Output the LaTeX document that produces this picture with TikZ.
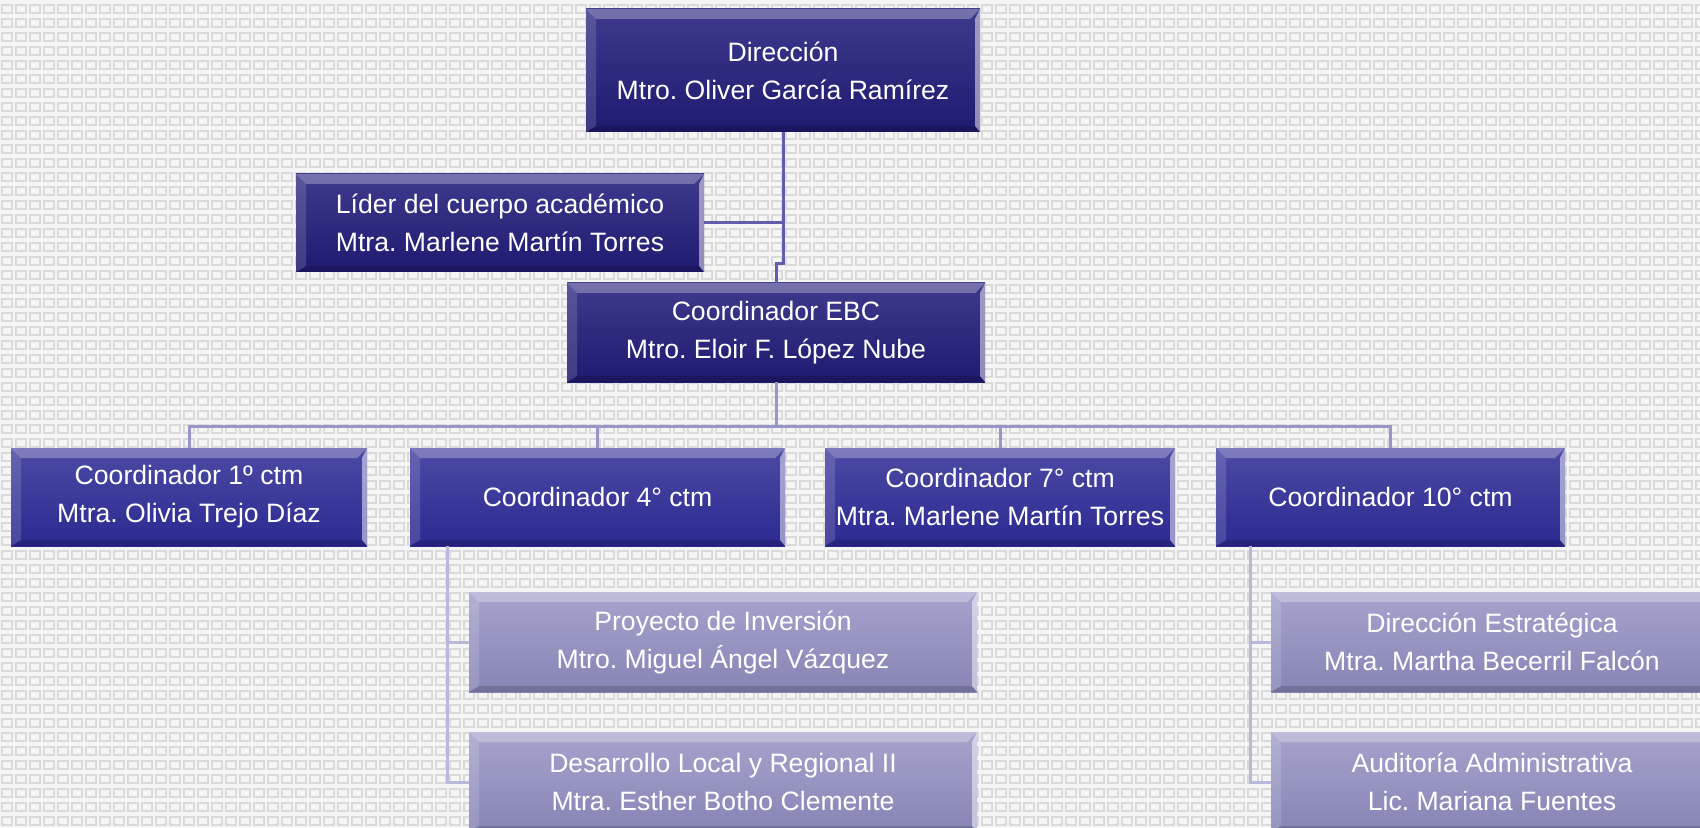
\documentclass[tikz,border=0pt]{standalone}
\usepackage{fontspec}
\setmainfont{Liberation Sans}
\usetikzlibrary{patterns}
\frenchspacing

\definecolor{fondo}{RGB}{245,245,245}
\definecolor{cuadro}{RGB}{218,218,218}
\definecolor{navytop}{RGB}{62,58,140}
\definecolor{navybot}{RGB}{30,26,112}
\definecolor{azultop}{RGB}{76,74,164}
\definecolor{azulbot}{RGB}{44,41,145}
\definecolor{lilatop}{RGB}{166,164,205}
\definecolor{lilabot}{RGB}{134,132,180}
\definecolor{lineatop}{RGB}{96,94,168}
\definecolor{lineamid}{RGB}{152,150,200}
\definecolor{lineasub}{RGB}{184,184,218}

\pgfdeclarepatternformonly{tiles}{\pgfpoint{-0.5pt}{-0.5pt}}{\pgfpoint{7.5pt}{7.5pt}}{\pgfpoint{7pt}{7pt}}{%
  \pgfsetlinewidth{0.6pt}%
  \pgfpathrectangle{\pgfpoint{1pt}{1.5pt}}{\pgfpoint{5pt}{4pt}}%
  \pgfusepath{stroke}}

\begin{document}
\begin{tikzpicture}[x=0.5pt,y=-0.5pt,
  bevel/.style={path picture={
    \fill[white,opacity=.28] (path picture bounding box.north west) -- (path picture bounding box.north east)
      -- ([shift={(-5pt,-5pt)}]path picture bounding box.north east) -- ([shift={(5pt,-5pt)}]path picture bounding box.north west) -- cycle;
    \fill[white,opacity=.14] (path picture bounding box.north west) -- ([shift={(5pt,-5pt)}]path picture bounding box.north west)
      -- ([shift={(5pt,3pt)}]path picture bounding box.south west) -- (path picture bounding box.south west) -- cycle;
    \fill[white,opacity=.5] (path picture bounding box.north east) -- ([shift={(-2.5pt,-5pt)}]path picture bounding box.north east)
      -- ([shift={(-2.5pt,3pt)}]path picture bounding box.south east) -- (path picture bounding box.south east) -- cycle;
    \fill[black,opacity=.15] (path picture bounding box.south west) -- ([shift={(5pt,3pt)}]path picture bounding box.south west)
      -- ([shift={(-2.5pt,3pt)}]path picture bounding box.south east) -- (path picture bounding box.south east) -- cycle;
  }},
  box/.style={inner sep=0pt,text=white,align=center,font=\fontsize{13.3}{19}\selectfont,bevel},
  jefe/.style={box,top color=navytop,bottom color=navybot},
  coord/.style={box,top color=azultop,bottom color=azulbot,minimum height=49pt},
  materia/.style={box,top color=lilatop,bottom color=lilabot,minimum height=50pt},
  link/.style={draw=lineatop,line width=1.5pt},
  bus/.style={draw=lineamid,line width=1.5pt},
  sub/.style={draw=lineasub,line width=1.5pt}]
\useasboundingbox (0,0) rectangle (1700,828);
\clip (0,0) rectangle (1700,828);
\fill[fondo] (0,0) rectangle (1700,828);
\fill[pattern=tiles,pattern color=cuadro] (0,0) rectangle (1700,828);

\node[jefe,minimum width=197pt,minimum height=61.5pt] (dir) at (783,70.5) {Dirección\\Mtro. Oliver García Ramírez};
\node[jefe,minimum width=204pt,minimum height=49pt] (lider) at (500,223) {Líder del cuerpo académico\\Mtra. Marlene Martín Torres};
\node[jefe,minimum width=209pt,minimum height=49.5pt] (ebc) at (776,332.5) {Coordinador EBC\\Mtro. Eloir F. López Nube};

\node[coord,minimum width=178pt] (c1) at (189,497) {Coordinador 1º ctm\\Mtra. Olivia Trejo Díaz};
\node[coord,minimum width=187.5pt] (c2) at (597.5,497) {Coordinador 4° ctm};
\node[coord,minimum width=175pt] (c3) at (1000,497) {Coordinador 7° ctm\\Mtra. Marlene Martín Torres};
\node[coord,minimum width=174.5pt] (c4) at (1390.5,497) {Coordinador 10° ctm};

\node[materia,minimum width=254pt] (p1) at (723,642) {Proyecto de Inversión\\Mtro. Miguel Ángel Vázquez};
\node[materia,minimum width=254pt] (p2) at (723,782) {Desarrollo Local y Regional II\\Mtra. Esther Botho Clemente};
\node[materia,minimum width=221pt] (d1) at (1492,642) {Dirección Estratégica\\Mtra. Martha Becerril Falcón};
\node[materia,minimum width=221pt] (d2) at (1492,782) {Auditoría Administrativa\\Lic. Mariana Fuentes};

\draw[link] (dir.south) -- ++(0,131) -| (ebc.north);
\draw[link] (lider.east) -- (lider.east -| dir.south);
\draw[bus] (ebc.south) -- ++(0,44) coordinate (b);
\draw[bus] (b) -| (c1.north);
\draw[bus] (b) -| (c2.north);
\draw[bus] (b) -| (c3.north);
\draw[bus] (b) -| (c4.north);
\draw[sub] ([xshift=19pt]c2.south west) |- (p1.west);
\draw[sub] ([xshift=19pt]c2.south west) |- (p2.west);
\draw[sub] ([xshift=17.5pt]c4.south west) |- (d1.west);
\draw[sub] ([xshift=17.5pt]c4.south west) |- (d2.west);

\end{tikzpicture}
\end{document}
